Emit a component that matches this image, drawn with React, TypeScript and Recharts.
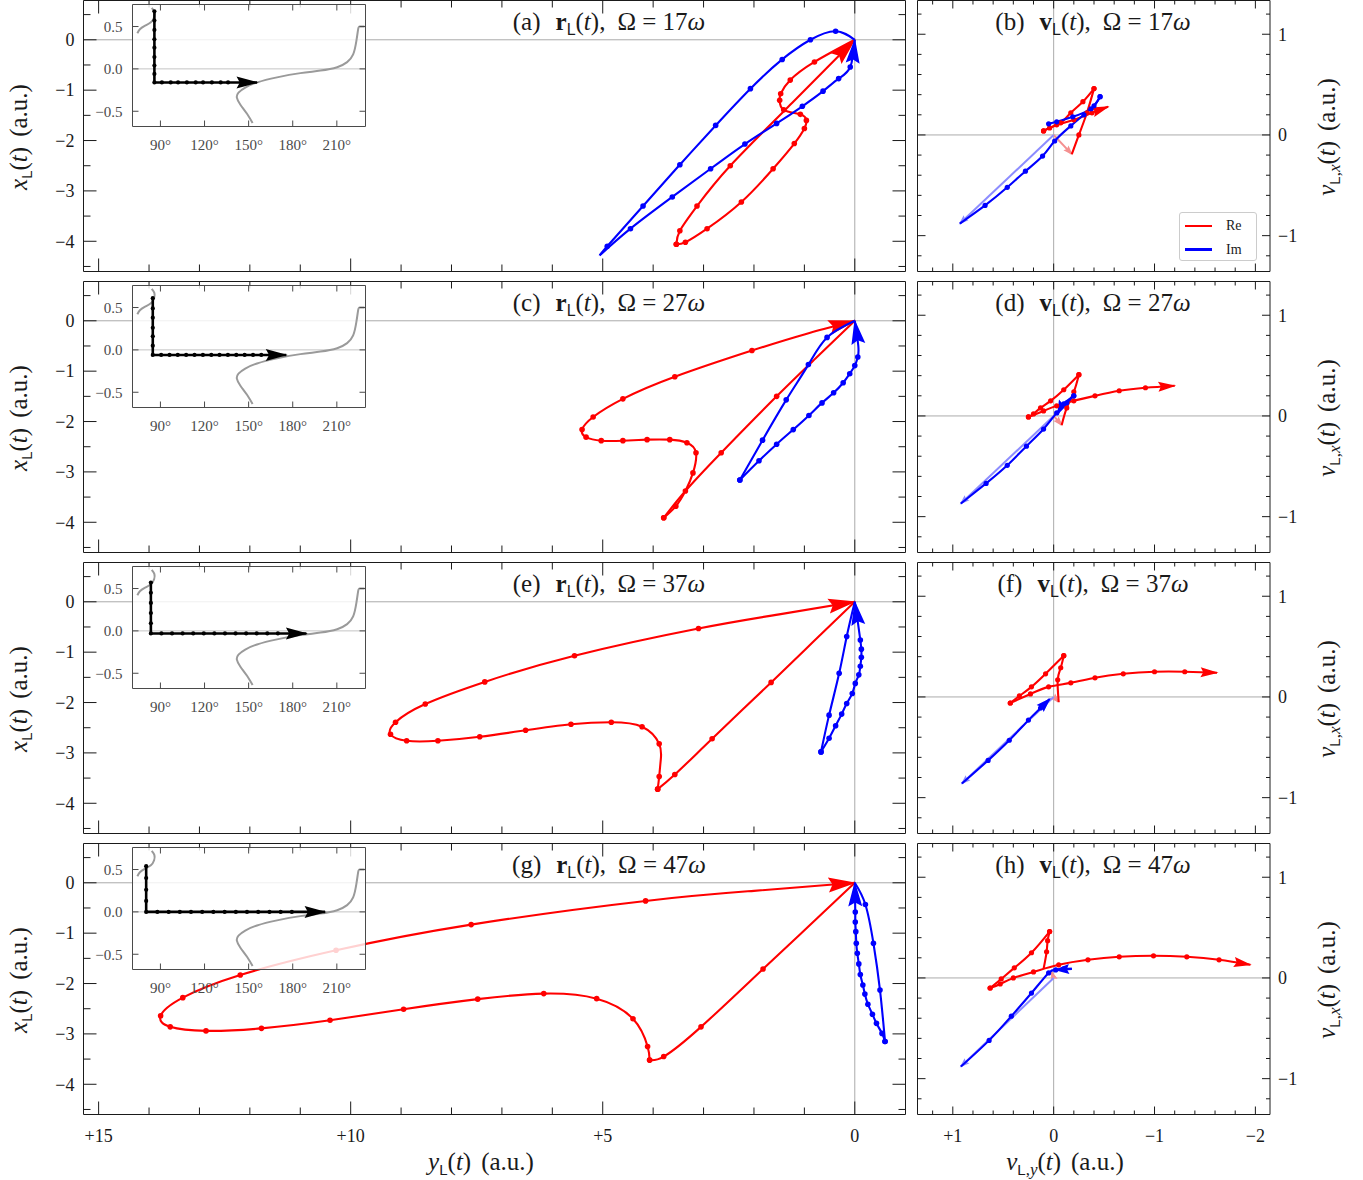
import React from 'react';
import { LineChart, Line, XAxis, YAxis, ReferenceLine, Legend } from 'recharts';

type Pt = number[]; // [horizontal, vertical] or [h, v, 0] to suppress the marker

// ---------------- r_L(t) panels: [y_L, x_L] ----------------
// (a) Ω = 17ω
const aRe1: Pt[] = [[0,0],[0.80,-0.44],[1.28,-0.80],[1.47,-1.07],[1.49,-1.20],[1.41,-1.39],[1.08,-1.48],[0.96,-1.60],[1.00,-1.76],[1.20,-2.06],[1.62,-2.56],[2.25,-3.22],[2.93,-3.75],[3.36,-4.02],[3.54,-4.06]];
const aRe2: Pt[] = [[3.54,-4.06],[3.47,-3.79],[3.13,-3.30],[2.47,-2.50],[1.24,-1.25,0],[0,0]];
const aIm1: Pt[] = [[0,0],[0.38,0.17],[0.88,0.0],[1.44,-0.39],[2.07,-0.97],[2.76,-1.70],[3.47,-2.48],[4.20,-3.30],[4.91,-4.10],[5.06,-4.28,0]];
const aIm2: Pt[] = [[5.06,-4.28,0],[4.45,-3.75],[3.62,-3.12],[2.86,-2.56],[2.18,-2.07],[1.55,-1.66],[1.04,-1.32],[0.63,-1.02],[0.32,-0.77],[0.09,-0.54],[0,0]];
// (c) Ω = 27ω
const cRe1: Pt[] = [[0,0],[0.78,-0.75,0],[1.55,-1.50],[2.65,-2.62],[3.36,-3.38],[3.79,-3.91]];
const cRe2: Pt[] = [[3.79,-3.91],[3.55,-3.68],[3.36,-3.38,0],[3.21,-3.02],[3.15,-2.62],[3.33,-2.42],[3.67,-2.36],[4.12,-2.36],[4.60,-2.38],[5.03,-2.38],[5.33,-2.31],[5.41,-2.16],[5.19,-1.91],[4.60,-1.55],[3.57,-1.11],[2.04,-0.59],[1.00,-0.27,0],[0,0]];
const cIm1: Pt[] = [[0,0],[0.55,-0.33],[0.92,-0.87],[1.36,-1.57],[1.83,-2.37],[2.28,-3.16]];
const cIm2: Pt[] = [[2.28,-3.16],[1.90,-2.78],[1.55,-2.45],[1.22,-2.16],[0.91,-1.88],[0.65,-1.63],[0.42,-1.43],[0.23,-1.23],[0.10,-1.05],[0.00,-0.89],[-0.06,-0.72],[-0.07,-0.50,0],[0,0]];
// (e) Ω = 37ω
const eRe1: Pt[] = [[0,0],[0.83,-0.80,0],[1.66,-1.60],[2.83,-2.72],[3.57,-3.43],[3.91,-3.72]];
const eRe2: Pt[] = [[3.91,-3.72],[3.88,-3.47],[3.85,-3.15,0],[3.88,-2.82],[4.22,-2.48],[4.83,-2.39],[5.63,-2.43],[6.53,-2.55],[7.44,-2.68],[8.27,-2.76],[8.89,-2.76],[9.21,-2.63],[9.11,-2.39],[8.52,-2.03],[7.34,-1.59],[5.56,-1.07],[3.10,-0.53],[1.50,-0.25,0],[0,0]];
const eIm1: Pt[] = [[0,0],[0.16,-0.69],[0.31,-1.42],[0.51,-2.25],[0.67,-2.98]];
const eIm2: Pt[] = [[0.67,-2.98],[0.51,-2.71],[0.38,-2.46],[0.26,-2.23],[0.16,-2.02],[0.05,-1.82],[-0.01,-1.62],[-0.08,-1.45],[-0.11,-1.28],[-0.13,-1.10],[-0.13,-0.94],[-0.11,-0.76],[-0.06,-0.40,0],[0,0]];
// (g) Ω = 47ω
const gRe1: Pt[] = [[0,0],[0.91,-0.86,0],[1.82,-1.71],[3.05,-2.86],[3.79,-3.45],[4.07,-3.52]];
const gRe2: Pt[] = [[4.07,-3.52],[4.11,-3.25],[4.40,-2.70],[5.12,-2.30],[6.17,-2.20],[7.48,-2.31],[8.95,-2.51],[10.41,-2.73],[11.77,-2.89],[12.87,-2.94],[13.58,-2.86],[13.77,-2.64],[13.33,-2.28],[12.19,-1.83],[10.29,-1.34],[7.61,-0.83],[4.15,-0.36],[2.00,-0.16,0],[0,0]];
const gIm1: Pt[] = [[0,0],[-0.21,-0.43],[-0.37,-1.20],[-0.50,-2.13],[-0.60,-3.15]];
const gIm2: Pt[] = [[-0.60,-3.15],[-0.54,-2.99],[-0.43,-2.79],[-0.35,-2.61],[-0.26,-2.41],[-0.20,-2.21],[-0.16,-2.03],[-0.11,-1.82],[-0.08,-1.61],[-0.05,-1.40],[-0.03,-1.20],[-0.02,-0.97],[-0.01,-0.78],[-0.01,-0.58],[0,0]];

// ---------------- v_L(t) panels: [v_y, v_x] ----------------
const bRe1: Pt[] = [[-0.18,-0.19,0],[-0.25,0.00],[-0.33,0.22],[-0.40,0.46]];
const bRe2: Pt[] = [[-0.40,0.46],[-0.29,0.33],[-0.17,0.22],[-0.07,0.12],[0.04,0.07],[0.10,0.04]];
const bRe3: Pt[] = [[0.10,0.04],[-0.03,0.10],[-0.20,0.15],[-0.38,0.22],[-0.54,0.28,0]];
const bIm1: Pt[] = [[0.93,-0.88,0],[0.68,-0.70],[0.46,-0.52],[0.28,-0.36],[0.11,-0.21],[-0.01,-0.06],[-0.17,0.09],[-0.30,0.20],[-0.40,0.29],[-0.46,0.38]];
const bIm2: Pt[] = [[-0.46,0.38],[-0.37,0.26],[-0.19,0.18],[-0.03,0.13],[0.05,0.11]];
const dRe1: Pt[] = [[-0.08,-0.09,0],[-0.13,0.08],[-0.20,0.24],[-0.25,0.41]];
const dRe2: Pt[] = [[-0.25,0.41],[-0.10,0.26],[0.03,0.15],[0.13,0.08],[0.20,0.02],[0.25,-0.01]];
const dRe3: Pt[] = [[0.25,-0.01],[0.10,0.05],[-0.03,0.10],[-0.20,0.15],[-0.41,0.20],[-0.65,0.25],[-0.91,0.28],[-1.20,0.30,0]];
const dIm1: Pt[] = [[0.92,-0.87,0],[0.67,-0.67],[0.46,-0.49],[0.27,-0.30],[0.10,-0.13],[-0.03,0.03],[-0.13,0.13],[-0.20,0.20]];
const dIm2: Pt[] = [[-0.20,0.20],[-0.10,0.12],[-0.04,0.02,0]];
const fRe1: Pt[] = [[-0.05,-0.05,0],[-0.04,0.17],[-0.07,0.29],[-0.10,0.41]];
const fRe2: Pt[] = [[-0.10,0.41],[0.08,0.23],[0.22,0.10],[0.34,0.01],[0.43,-0.06]];
const fRe3: Pt[] = [[0.43,-0.06],[0.23,0.03],[0.05,0.10],[-0.17,0.14],[-0.41,0.19],[-0.69,0.23],[-1.00,0.25],[-1.30,0.25],[-1.62,0.24,0]];
const fIm1: Pt[] = [[0.91,-0.86,0],[0.65,-0.63],[0.44,-0.43],[0.25,-0.23],[0.13,-0.11],[0.04,-0.02,0]];
const hRe1: Pt[] = [[0.10,0.09,0],[0.07,0.26],[0.06,0.37],[0.04,0.46]];
const hRe2: Pt[] = [[0.04,0.46],[0.22,0.25],[0.39,0.10],[0.52,-0.01],[0.63,-0.10]];
const hRe3: Pt[] = [[0.63,-0.10],[0.53,-0.06],[0.40,0.00],[0.20,0.06],[-0.05,0.13],[-0.34,0.18],[-0.65,0.21],[-0.99,0.22],[-1.32,0.21],[-1.64,0.18],[-1.95,0.13,0]];
const hIm1: Pt[] = [[0.92,-0.88,0],[0.64,-0.62],[0.42,-0.38],[0.22,-0.15],[0.05,0.05],[-0.02,0.08],[-0.10,0.09],[-0.18,0.09,0]];
const hIm2: Pt[] = [[-0.18,0.09,0],[-0.02,0.08,0]];

// faint initial-velocity arrows (tips)
const vReStarts: Pt[] = [[-0.18,-0.19],[-0.08,-0.09],[-0.05,-0.05],[0.02,0.06]];
const vImStarts: Pt[] = [[0.93,-0.88],[0.92,-0.87],[0.91,-0.86],[0.92,-0.88]];

// ---------------- insets: [angle (deg), value] ----------------
const insA: Pt[] = [[85.9,0.68],[85.9,0.57],[85.9,0.46],[85.9,0.35],[85.9,0.25],[85.9,0.14],[85.9,0.04],[85.9,-0.06],[85.9,-0.16],[91,-0.16],[97,-0.16],[102,-0.16],[108,-0.16],[114,-0.16],[119,-0.16],[125,-0.16],[131,-0.16],[136,-0.16],[155.7,-0.16,0]];
const insC: Pt[] = [[84.8,0.61],[84.8,0.49],[84.8,0.38],[84.8,0.26],[84.8,0.16],[84.8,0.05],[84.8,-0.06],[90.5,-0.06],[96.2,-0.06],[101.8,-0.06],[107.5,-0.06],[113.2,-0.06],[118.9,-0.06],[124.6,-0.06],[130.2,-0.06],[135.9,-0.06],[141.6,-0.06],[147.3,-0.06],[153.0,-0.06],[158.6,-0.06],[175.6,-0.06,0]];
const insE: Pt[] = [[83.5,0.57],[83.5,0.45],[83.5,0.33],[83.5,0.21],[83.5,0.09],[83.5,-0.03],[90.7,-0.03],[97.9,-0.03],[105.1,-0.03],[112.3,-0.03],[119.5,-0.03],[126.7,-0.03],[133.9,-0.03],[141.1,-0.03],[148.3,-0.03],[155.5,-0.03],[162.7,-0.03],[169.9,-0.03],[189.3,-0.03,0]];
const insG: Pt[] = [[80.3,0.54],[80.3,0.40],[80.3,0.26],[80.3,0.13],[80.3,0.0],[87.9,0.0],[95.6,0.0],[103.2,0.0],[110.8,0.0],[118.4,0.0],[126.0,0.0],[133.7,0.0],[141.3,0.0],[148.9,0.0],[156.5,0.0],[164.2,0.0],[171.8,0.0],[179.4,0.0],[202,0.0,0]];
const grayTop: Pt[] = [[74.3,0.42],[76.2,0.47],[79.6,0.51],[83.5,0.55],[85.7,0.61],[85.9,0.67],[84.1,0.72]];
const grayMain: Pt[] = [[152.7,-0.64],[148.9,-0.53],[144.3,-0.42],[142.0,-0.34],[143.1,-0.28],[147.7,-0.22],[155.7,-0.16],[169.3,-0.10],[185.2,-0.05],[198.8,-0.02],[210.2,0.02],[217.0,0.08],[221.1,0.17],[223.3,0.33],[224.5,0.47],[225.6,0.50],[228.8,0.50]];

// ---------------- ticks / labels ----------------
const OMEGAS = [17, 27, 37, 47];
const R_TAGS = ['a', 'c', 'e', 'g'];
const V_TAGS = ['b', 'd', 'f', 'h'];
const LX_TICKS = [15,14,13,12,11,10,9,8,7,6,5,4,3,2,1,0];
const LY_TICKS = [0.5,0,-0.5,-1,-1.5,-2,-2.5,-3,-3.5,-4,-4.5];
const RX_TICKS = [1.2,1,0.8,0.6,0.4,0.2,0,-0.2,-0.4,-0.6,-0.8,-1,-1.2,-1.4,-1.6,-1.8,-2];
const RY_TICKS = [1.2,1,0.8,0.6,0.4,0.2,0,-0.2,-0.4,-0.6,-0.8,-1,-1.2];
const IX_TICKS = [90,120,150,180,210];
const IY_TICKS = [0.5,0,-0.5];
const IY_LABELS = ['0.5','0.0','\u22120.5'];

const R_PANELS = [
  { re: [aRe1, aRe2], im: [aIm1, aIm2], ins: insA },
  { re: [cRe1, cRe2], im: [cIm1, cIm2], ins: insC },
  { re: [eRe1, eRe2], im: [eIm1, eIm2], ins: insE },
  { re: [gRe1, gRe2], im: [gIm1, gIm2], ins: insG },
];
const V_PANELS = [
  { re: [bRe1, bRe2, bRe3], im: [bIm1, bIm2], imArrow: false },
  { re: [dRe1, dRe2, dRe3], im: [dIm1, dIm2], imArrow: true },
  { re: [fRe1, fRe2, fRe3], im: [fIm1], imArrow: true },
  { re: [hRe1, hRe2, hRe3], im: [hIm1, hIm2], imArrow: true },
];

const ROWS = [0, 281, 562, 843];
const SERIF = "'Liberation Serif','Times New Roman',serif";
const SANS = "'Liberation Sans',Arial,sans-serif";
const INK = '#1a1a1a';
const RED = '#ff0000';
const BLUE = '#0000ff';

const isInt = (v: number) => Math.abs(v - Math.round(v)) < 1e-6;
const isMult5 = (v: number) => isInt(v / 5);
const fmtSigned = (v: number) => (v > 0 ? `+${v}` : v < 0 ? `\u2212${-v}` : '0');
const fmtPlain = (v: number) => (v < 0 ? `\u2212${-v}` : `${v}`);

const toData = (seg: Pt[]) =>
  seg.map((p) => ({ y: p[0], x: p[1], d: p.length > 2 ? p[2] : p[0] === 0 && p[1] === 0 ? 0 : 1 }));

type Side = 'b' | 't' | 'l' | 'r';
function makeTick(
  side: Side,
  isMajor: (v: number) => boolean,
  majLen: number,
  minLen: number,
  label: ((v: number) => string) | null,
  fs: number,
  off: number,
  color = INK,
) {
  return (props: any) => {
    const { x, y, payload, index } = props;
    const v = payload.value;
    const maj = isMajor(v);
    const L = maj ? majLen : minLen;
    const lab = label && maj ? label(v) : null;
    let x2 = x, y2 = y, tx = x, ty = y;
    let anchor: any = 'middle';
    if (side === 'b') { y2 = y - L; ty = y + off; }
    if (side === 't') { y2 = y + L; }
    if (side === 'l') { x2 = x + L; tx = x - off; ty = y + fs * 0.35; anchor = 'end'; }
    if (side === 'r') { x2 = x - L; tx = x + off; ty = y + fs * 0.35; anchor = 'start'; }
    return (
      <g key={`tk-${side}-${index}`}>
        <line x1={x} y1={y} x2={x2} y2={y2} stroke={color} strokeWidth={1} />
        {lab != null && (
          <text x={tx} y={ty} textAnchor={anchor} fontFamily={SERIF} fontSize={fs} fill={color}>
            {lab}
          </text>
        )}
      </g>
    );
  };
}

const dotFn = (color: string, r: number) => (props: any) => {
  const { cx, cy, payload, index } = props;
  if (!payload || !payload.d || cx == null || cy == null) return <g key={`n${index}`} />;
  return <circle key={`c${index}`} cx={cx} cy={cy} r={r} fill={color} stroke="none" />;
};

function segLines(segs: Pt[][], color: string, r: number, arrowId: string | null, keyp: string, width = 2.1, type: any = 'natural') {
  return segs.map((s, i) => (
    <Line
      key={keyp + i}
      xAxisId="b"
      yAxisId="l"
      data={toData(s)}
      dataKey="x"
      type={type}
      stroke={color}
      strokeWidth={width}
      dot={dotFn(color, r)}
      activeDot={false}
      isAnimationActive={false}
      markerEnd={arrowId && i === segs.length - 1 ? `url(#${arrowId})` : undefined}
      legendType="none"
    />
  ));
}

// Axes are 1px thick (recharts skips zero-size axes); every tick is drawn by makeTick.
function axesSet(opts: {
  xDomain: number[]; yDomain: number[]; xTicks: number[]; yTicks: number[];
  xMajor: (v: number) => boolean; yMajor: (v: number) => boolean;
  maj: number; min: number;
  bLabel: ((v: number) => string) | null; lLabel: ((v: number) => string) | null; rLabel: ((v: number) => string) | null;
  fs: number; bOff: number; lOff: number; rOff: number; color?: string; reversed?: boolean;
}) {
  const c = opts.color || INK;
  const axisLine = { stroke: c, strokeWidth: 1 };
  const common = { type: 'number' as const, allowDataOverflow: true, interval: 0 as const, tickSize: 0, tickMargin: 0, tickLine: false, axisLine };
  return [
    <XAxis key="xb" xAxisId="b" dataKey="y" orientation="bottom" height={1} domain={opts.xDomain} ticks={opts.xTicks} reversed={opts.reversed}
      tick={makeTick('b', opts.xMajor, opts.maj, opts.min, opts.bLabel, opts.fs, opts.bOff, c)} {...common} />,
    <XAxis key="xt" xAxisId="t" dataKey="y" orientation="top" height={1} domain={opts.xDomain} ticks={opts.xTicks} reversed={opts.reversed}
      tick={makeTick('t', opts.xMajor, opts.maj, opts.min, null, opts.fs, 0, c)} {...common} />,
    <YAxis key="yl" yAxisId="l" orientation="left" width={1} domain={opts.yDomain} ticks={opts.yTicks}
      tick={makeTick('l', opts.yMajor, opts.maj, opts.min, opts.lLabel, opts.fs, opts.lOff, c)} {...common} />,
    <YAxis key="yr" yAxisId="r" orientation="right" width={1} domain={opts.yDomain} ticks={opts.yTicks}
      tick={makeTick('r', opts.yMajor, opts.maj, opts.min, opts.rLabel, opts.fs, opts.rOff, c)} {...common} />,
  ];
}

function LeftPanel({ i, R }: { i: number; R: number }) {
  const last = i === 3;
  const mb = last ? 70 : 10;
  const H = 10.5 + 271 + mb;
  const p = R_PANELS[i];
  return (
    <div style={{ position: 'absolute', left: 0, top: R - 10 }}>
      <LineChart width={916} height={H} margin={{ top: 9.5, right: 9.5, bottom: mb - 1, left: 82.5 }}>
        {axesSet({
          xDomain: [-1.006, 15.3], yDomain: [-4.6, 0.78], xTicks: LX_TICKS, yTicks: LY_TICKS,
          xMajor: isMult5, yMajor: isInt, maj: 13, min: 7,
          bLabel: last ? fmtSigned : null, lLabel: fmtPlain, rLabel: null,
          fs: 18, bOff: 27, lOff: 9, rOff: 8, reversed: true,
        })}
        <ReferenceLine xAxisId="b" yAxisId="l" y={0} stroke="#ababab" strokeWidth={1} />
        <ReferenceLine xAxisId="b" yAxisId="l" x={0} stroke="#ababab" strokeWidth={1} />
        {segLines(p.re, RED, 2.8, 'arR', 'r')}
        {segLines(p.im, BLUE, 2.8, 'arB', 'i')}
      </LineChart>
    </div>
  );
}

const legendContent = () => (
  <div style={{ width: 78, height: 49, boxSizing: 'border-box', border: '1px solid #cccccc', borderRadius: 3, background: '#fff', fontFamily: SERIF, fontSize: 14, color: INK, position: 'relative' }}>
    {[['Re', RED], ['Im', BLUE]].map(([t, c], k) => (
      <div key={t} style={{ position: 'absolute', left: 5, top: 6 + k * 23.5, height: 14, display: 'flex', alignItems: 'center' }}>
        <div style={{ width: 27, height: 2.5, background: c }} />
        <span style={{ marginLeft: 14, lineHeight: '14px' }}>{t}</span>
      </div>
    ))}
  </div>
);

function RightPanel({ i, R }: { i: number; R: number }) {
  const last = i === 3;
  const mb = last ? 70 : 10;
  const H = 10.5 + 271 + mb;
  const p = V_PANELS[i];
  const rs = vReStarts[i];
  const is = vImStarts[i];
  return (
    <div style={{ position: 'absolute', left: 907, top: R - 10 }}>
      <LineChart width={456} height={H} margin={{ top: 9.5, right: 92, bottom: mb - 1, left: 9.5 }}>
        {axesSet({
          xDomain: [-2.145, 1.35], yDomain: [-1.356, 1.335], xTicks: RX_TICKS, yTicks: RY_TICKS,
          xMajor: isInt, yMajor: isInt, maj: 8, min: 4,
          bLabel: last ? fmtSigned : null, lLabel: null, rLabel: fmtPlain,
          fs: 18, bOff: 27, lOff: 9, rOff: 8, reversed: true,
        })}
        <ReferenceLine xAxisId="b" yAxisId="l" y={0} stroke="#ababab" strokeWidth={1} />
        <ReferenceLine xAxisId="b" yAxisId="l" x={0} stroke="#ababab" strokeWidth={1} />
        {segLines([[[0, 0, 0], [rs[0], rs[1], 0]]], '#f49090', 0, 'arRf', 'fr', 2, 'linear')}
        {segLines([[[0, 0, 0], [is[0], is[1], 0]]], '#8c8cff', 0, 'arBf', 'fb', 2, 'linear')}
        {segLines(p.re, RED, 2.6, 'arRs', 'r')}
        {segLines(p.im, BLUE, 2.6, p.imArrow ? 'arBs' : null, 'i')}
        {i === 0 && (
          <Legend layout="vertical" verticalAlign="middle" align="center" content={legendContent}
            wrapperStyle={{ left: 272, top: 222, width: 78, height: 49 }} />
        )}
      </LineChart>
    </div>
  );
}

function Inset({ i, R }: { i: number; R: number }) {
  const p = R_PANELS[i];
  const ic = '#4a4a4a';
  return (
    <>
      <div style={{ position: 'absolute', left: 132.5, top: R + 4.5, width: 233, height: 122, background: 'rgba(255,255,255,0.82)' }} />
      <div style={{ position: 'absolute', left: 92, top: R - 1 }}>
        <LineChart width={279} height={160} margin={{ top: 4.5, right: 4.5, bottom: 31.5, left: 39.5 }}>
          {axesSet({
            xDomain: [71, 229.5], yDomain: [-0.68, 0.76], xTicks: IX_TICKS, yTicks: IY_TICKS,
            xMajor: () => true, yMajor: () => true, maj: 6, min: 6,
            bLabel: (v) => `${v}\u00b0`, lLabel: (v) => IY_LABELS[IY_TICKS.indexOf(v)], rLabel: null,
            fs: 15, bOff: 23, lOff: 10, rOff: 8, color: ic,
          })}
          <ReferenceLine xAxisId="b" yAxisId="l" y={0} stroke="#c4c4c4" strokeWidth={1} />
          <Line xAxisId="b" yAxisId="l" data={toData(grayTop)} dataKey="x" type="natural" stroke="#9a9a9a" strokeWidth={2} dot={false} activeDot={false} isAnimationActive={false} />
          <Line xAxisId="b" yAxisId="l" data={toData(grayMain)} dataKey="x" type="natural" stroke="#9a9a9a" strokeWidth={2} dot={false} activeDot={false} isAnimationActive={false} />
          {segLines([p.ins], '#000000', 2.1, 'arK', 'k', 2.6, 'linear')}
        </LineChart>
      </div>
    </>
  );
}

function Marker({ id, color, L, W }: { id: string; color: string; L: number; W: number }) {
  return (
    <marker id={id} markerUnits="userSpaceOnUse" markerWidth={L + 4} markerHeight={W + 4}
      viewBox={`-2 ${-W / 2 - 2} ${L + 4} ${W + 4}`} refX={L - 1.5} refY={0} orient="auto" overflow="visible">
      <path d={`M0,${-W / 2} L${L},0 L0,${W / 2} L${L * 0.15},0 Z`} fill={color} />
    </marker>
  );
}

function Title({ x, y, tag, bold, om }: { x: number; y: number; tag: string; bold: string; om: number }) {
  return (
    <text x={x} y={y} textAnchor="middle" fontFamily={SERIF} fontSize={25} fill={INK}>
      <tspan>({tag})</tspan>
      <tspan dx={15} fontWeight="bold">{bold}</tspan>
      <tspan fontFamily={SANS} fontSize={16} dy={5}>L</tspan>
      <tspan dy={-5}>(</tspan>
      <tspan fontStyle="italic">t</tspan>
      <tspan>),</tspan>
      <tspan dx={12}>{`\u03a9 = ${om}`}</tspan>
      <tspan fontStyle="italic">ω</tspan>
    </text>
  );
}

function AxisName({ v, sub, subVar, transform, x, y }: { v: string; sub: string; subVar?: string; transform?: string; x?: number; y?: number }) {
  return (
    <text transform={transform} x={x} y={y} textAnchor="middle" fontFamily={SERIF} fontSize={25} fill={INK}>
      <tspan fontStyle="italic">{v}</tspan>
      <tspan fontFamily={SANS} fontSize={15} dy={5}>{sub}</tspan>
      {subVar && <tspan fontSize={17}>,</tspan>}
      {subVar && <tspan fontSize={17} fontStyle="italic">{subVar}</tspan>}
      <tspan dy={-5}>(</tspan>
      <tspan fontStyle="italic">t</tspan>
      <tspan>)</tspan>
      <tspan dx={10}>(a.u.)</tspan>
    </text>
  );
}

function Overlay() {
  return (
    <svg width={1363} height={1180} style={{ position: 'absolute', left: 0, top: 0, pointerEvents: 'none', overflow: 'visible' }}>
      <defs>
        <Marker id="arR" color={RED} L={28} W={15} />
        <Marker id="arB" color={BLUE} L={25} W={14} />
        <Marker id="arRs" color={RED} L={18} W={10} />
        <Marker id="arBs" color={BLUE} L={15} W={10} />
        <Marker id="arRf" color="#f49090" L={10} W={7} />
        <Marker id="arBf" color="#8c8cff" L={10} W={7} />
        <Marker id="arK" color="#000000" L={22} W={12} />
      </defs>
      {ROWS.map((R, i) => (
        <g key={`tt${i}`}>
          <Title x={609} y={R + 30} tag={R_TAGS[i]} bold="r" om={OMEGAS[i]} />
          <Title x={1093} y={R + 30} tag={V_TAGS[i]} bold="v" om={OMEGAS[i]} />
          <AxisName v="x" sub="L" transform={`translate(27,${R + 137}) rotate(-90)`} />
          <AxisName v="v" sub="L" subVar="x" transform={`translate(1335,${R + 137}) rotate(-90)`} />
        </g>
      ))}
      <AxisName v="y" sub="L" x={481} y={1170} />
      <AxisName v="v" sub="L" subVar="y" x={1065} y={1170} />
    </svg>
  );
}

export default function App() {
  return (
    <div style={{ position: 'absolute', left: 0, top: 0, width: 1363, height: 1180, background: '#fff', overflow: 'hidden' }}>
      {ROWS.map((R, i) => <LeftPanel key={`L${i}`} i={i} R={R} />)}
      {ROWS.map((R, i) => <RightPanel key={`R${i}`} i={i} R={R} />)}
      {ROWS.map((R, i) => <Inset key={`I${i}`} i={i} R={R} />)}
      <Overlay />
    </div>
  );
}
